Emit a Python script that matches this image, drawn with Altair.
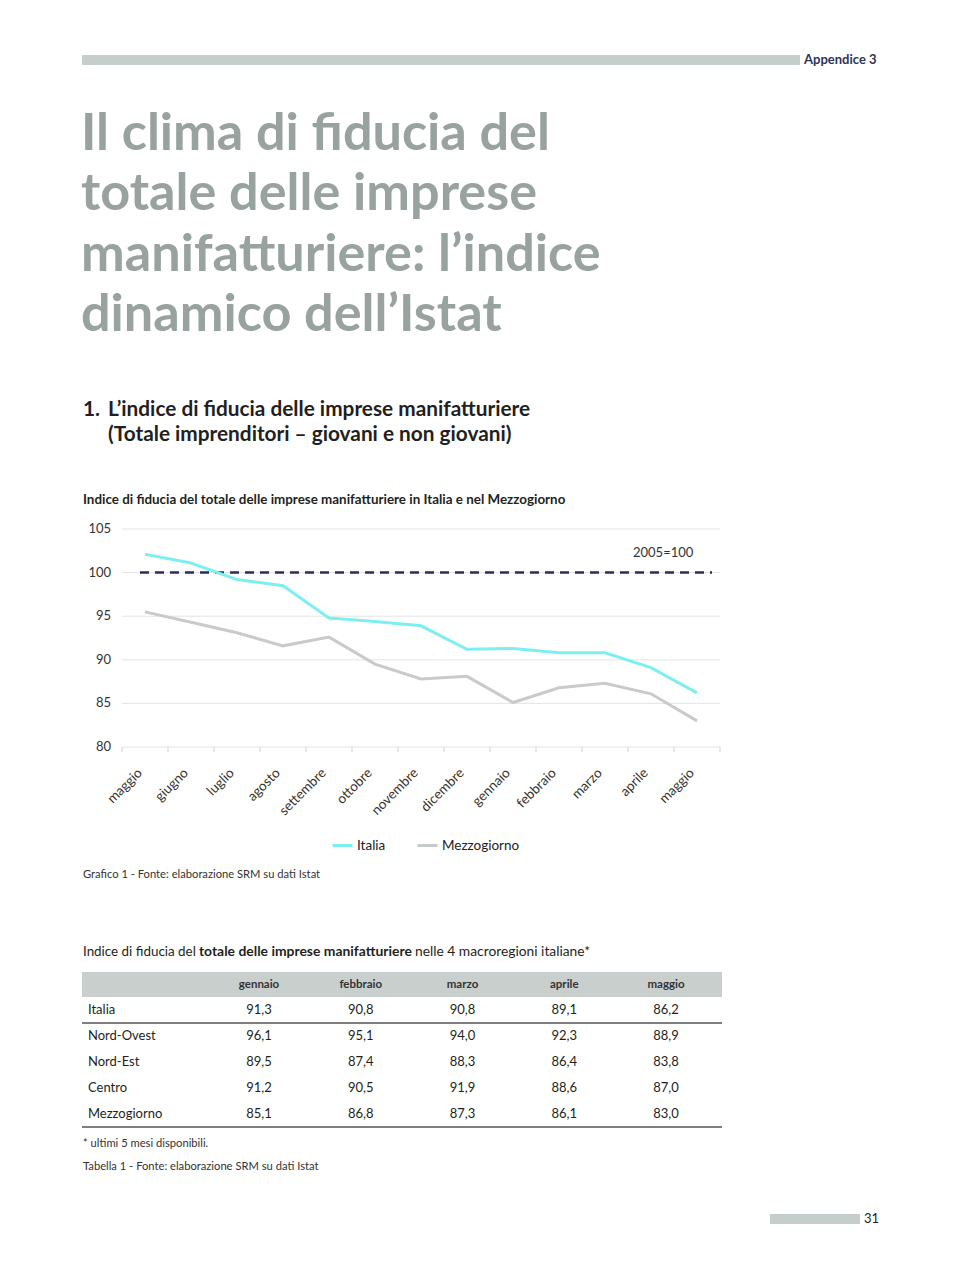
import altair as alt
import pandas as pd

# ---------------- data ----------------
months = ["maggio", "giugno", "luglio", "agosto", "settembre", "ottobre", "novembre",
          "dicembre", "gennaio", "febbraio", "marzo", "aprile", "maggio"]
italia = [102.1, 101.1, 99.2, 98.5, 94.8, 94.4, 93.9, 91.2, 91.3, 90.8, 90.8, 89.1, 86.2]
mezzogiorno = [95.5, 94.3, 93.1, 91.6, 92.6, 89.5, 87.8, 88.1, 85.1, 86.8, 87.3, 86.1, 83.0]
series_names = ["Italia", "Mezzogiorno"]
y_ticks = [80, 85, 90, 95, 100, 105]
base_value = [100]

table_months = ["gennaio", "febbraio", "marzo", "aprile", "maggio"]
table_regions = ["Italia", "Nord-Ovest", "Nord-Est", "Centro", "Mezzogiorno"]
table_values = [
    ["91,3", "90,8", "90,8", "89,1", "86,2"],
    ["96,1", "95,1", "94,0", "92,3", "88,9"],
    ["89,5", "87,4", "88,3", "86,4", "83,8"],
    ["91,2", "90,5", "91,9", "88,6", "87,0"],
    ["85,1", "86,8", "87,3", "86,1", "83,0"],
]

title_lines = ["Il clima di fiducia del", "totale delle imprese",
               "manifatturiere: l\u2019indice", "dinamico dell\u2019Istat"]

# ---------------- style ----------------
FONT = "Lato"
M = 8
def px(v):
    return v - M

CYAN = "#7eeff0"
GREY = "#c8cbcb"
NAVY = "#2b2c5e"
TXT = "#231f20"

def txt(s, x, y, size, weight="normal", color=TXT, align="left", baseline="middle"):
    return alt.Chart(pd.DataFrame({"t": [s]})).mark_text(
        align=align, baseline=baseline, fontSize=size, fontWeight=weight,
        color=color, font=FONT
    ).encode(x=alt.value(px(x)), y=alt.value(px(y)), text="t:N")

def rect(x1, x2, y1, y2, color):
    return alt.Chart(pd.DataFrame({"a": [0]})).mark_rect(color=color).encode(
        x=alt.value(px(x1)), x2=alt.value(px(x2)), y=alt.value(px(y1)), y2=alt.value(px(y2)))

def hline(x1, x2, y, color, width):
    return alt.Chart(pd.DataFrame({"a": [0]})).mark_rule(color=color, strokeWidth=width).encode(
        x=alt.value(px(x1)), x2=alt.value(px(x2)), y=alt.value(px(y)))

# ---------------- line chart ----------------
idx = list(range(len(months)))
xs = alt.Scale(type="point", domain=idx, range=[px(145), px(697)], padding=0)
ys = alt.Scale(domain=[80, 105], range=[px(747), px(529)], nice=False, zero=False)

rows = []
for i in idx:
    rows.append({"idx": i, "serie": series_names[0], "value": italia[i]})
    rows.append({"idx": i, "serie": series_names[1], "value": mezzogiorno[i]})
line_df = pd.DataFrame(rows)
month_df = pd.DataFrame({"idx": idx, "month": months})
tick_df = pd.DataFrame({"v": y_ticks})

grid = alt.Chart(tick_df).mark_rule(color="#e4e4e4", strokeWidth=1).encode(
    y=alt.Y("v:Q", scale=ys, axis=None), x=alt.value(px(122)), x2=alt.value(px(720)))
ylab = alt.Chart(tick_df).mark_text(align="right", baseline="middle", fontSize=13,
                                     font=FONT, color="#333333").encode(
    y=alt.Y("v:Q", scale=ys, axis=None), x=alt.value(px(111)), text="v:Q")
xlab = alt.Chart(month_df).mark_text(align="right", baseline="middle", fontSize=13.5,
                                      font=FONT, color="#333333", angle=315, dx=-7).encode(
    x=alt.X("idx:O", scale=xs, axis=None), y=alt.value(px(766)), text="month:N")
base = alt.Chart(pd.DataFrame({"v": base_value})).mark_rule(
    color=NAVY, strokeWidth=2.5, strokeDash=[9, 6]).encode(
    y=alt.Y("v:Q", scale=ys, axis=None), x=alt.value(px(140)), x2=alt.value(px(712)))
lines = alt.Chart(line_df).mark_line(strokeWidth=3).encode(
    x=alt.X("idx:O", scale=xs, axis=None),
    y=alt.Y("value:Q", scale=ys, axis=None),
    color=alt.Color("serie:N", scale=alt.Scale(domain=series_names, range=[CYAN, GREY]),
                    legend=alt.Legend(title=None, orient="none", legendX=px(331), legendY=px(834),
                                      direction="horizontal", symbolType="stroke",
                                      symbolStrokeWidth=3, symbolSize=400, labelFont=FONT,
                                      labelFontSize=13.5, labelColor="#222222", labelOffset=3,
                                      columnPadding=25, padding=0)),
)
line_chart = alt.layer(grid, ylab, xlab, base, lines)

bounds_df = pd.DataFrame({"b": list(range(len(months) + 1))})
xticks = alt.Chart(bounds_df).mark_rule(color="#cfcfcf", strokeWidth=1).encode(
    x=alt.X("b:O", scale=alt.Scale(type="point", domain=list(range(len(months) + 1)),
                                   range=[px(122), px(720)], padding=0), axis=None),
    y=alt.value(px(747)), y2=alt.value(px(752)))

# ---------------- table ----------------
cells = []
for r, reg in enumerate(table_regions):
    for c, mon in enumerate(table_months):
        cells.append({"region": reg, "month": mon, "val": table_values[r][c]})
cell_df = pd.DataFrame(cells)
tx = alt.Scale(type="point", domain=table_months, range=[px(259), px(666)], padding=0)
ty = alt.Scale(type="point", domain=table_regions, range=[px(1010), px(1114)], padding=0)

t_cells = alt.Chart(cell_df).mark_text(fontSize=13, font=FONT, color=TXT, baseline="middle").encode(
    x=alt.X("month:N", scale=tx, axis=None), y=alt.Y("region:N", scale=ty, axis=None), text="val:N")
t_head = alt.Chart(pd.DataFrame({"month": table_months})).mark_text(
    fontSize=11.5, fontWeight="bold", font=FONT, color="#333333", baseline="middle").encode(
    x=alt.X("month:N", scale=tx, axis=None), y=alt.value(px(985)), text="month:N")
t_reg = alt.Chart(pd.DataFrame({"region": table_regions})).mark_text(
    fontSize=13, font=FONT, color=TXT, align="left", baseline="middle").encode(
    y=alt.Y("region:N", scale=ty, axis=None), x=alt.value(px(88)), text="region:N")

# ---------------- page decorations ----------------
deco = [
    rect(82, 800, 55, 65, "#c6cecb"),
    txt("Appendice 3", 804, 60, 13, "bold", "#2e3358"),
]
for k, line in enumerate(title_lines):
    deco.append(txt(line, 81, 150 + k * 60.3, 52.2, "bold", "#98a29f", baseline="alphabetic"))
deco += [
    txt("1.", 83, 416, 20.8, "bold", TXT, baseline="alphabetic"),
    txt("L\u2019indice di fiducia delle imprese manifatturiere", 108, 416, 20.8, "bold", TXT, baseline="alphabetic"),
    txt("(Totale imprenditori \u2013 giovani e non giovani)", 108, 441, 20.8, "bold", TXT, baseline="alphabetic"),
    txt("Indice di fiducia del totale delle imprese manifatturiere in Italia e nel Mezzogiorno",
        83, 500, 13.4, "bold", TXT),
    txt("2005=100", 633, 553, 13, "normal", "#333333"),
    txt("Grafico 1 - Fonte: elaborazione SRM su dati Istat", 83, 875, 11.2, "normal", "#333333"),
    txt("Indice di fiducia del", 83, 952, 13.4, "normal", TXT),
    txt("totale delle imprese manifatturiere", 199, 952, 13.9, "bold", TXT),
    txt("nelle 4 macroregioni italiane*", 415, 952, 13.8, "normal", TXT),
    rect(82, 722, 972, 997, "#c9cfcd"),
    hline(82, 722, 1023, "#555555", 1.5),
    hline(82, 722, 1127, "#555555", 1.5),
    txt("* ultimi 5 mesi disponibili.", 83, 1144, 11.2, "normal", "#333333"),
    txt("Tabella 1 - Fonte: elaborazione SRM su dati Istat", 83, 1167, 11.2, "normal", "#333333"),
    rect(770, 860, 1214, 1224, "#c6cecb"),
    txt("31", 864, 1219, 13, "normal", TXT),
]

chart = alt.layer(
    *deco, xticks, line_chart, t_head, t_cells, t_reg
).resolve_scale(
    x="independent", y="independent", color="independent"
).properties(
    width=944, height=1262, autosize="none", padding=0, background="white"
).configure_view(stroke=None)

chart.save("out.html", embed_options={"renderer": "svg", "actions": False})
